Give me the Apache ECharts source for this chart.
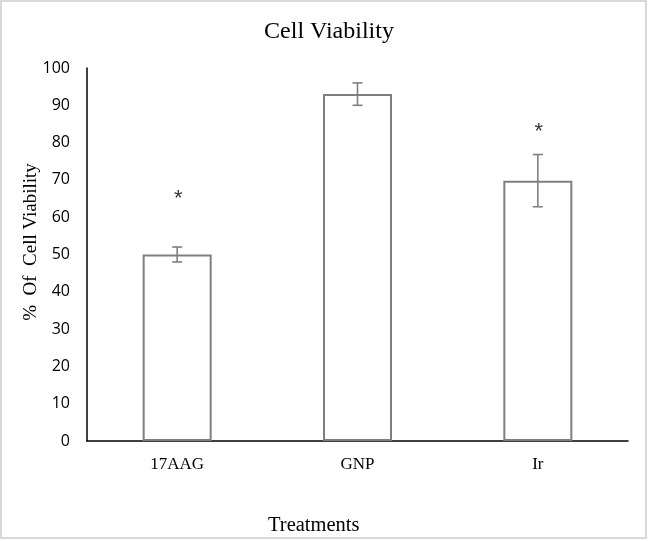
<!DOCTYPE html>
<html>
<head>
<meta charset="utf-8">
<script src="https://cdn.jsdelivr.net/npm/echarts@6/dist/echarts.min.js"></script>
<style>
html,body{margin:0;padding:0;background:#fff;}
#chart{width:649px;height:541px;}
</style>
</head>
<body>
<div id="chart"></div>
<script>
var categories = ['17AAG', 'GNP', 'Ir'];
var viability = [50, 93, 69.8];
var errors = [2, 3, 7];
var starValues = [66, null, 84];
var yTicks = [0, 10, 20, 30, 40, 50, 60, 70, 80, 90, 100];

var chart = echarts.init(document.getElementById('chart'));

var errData = categories.map(function (c, i) {
  return [i, viability[i] - errors[i], viability[i] + errors[i]];
});
var starData = categories.map(function (c, i) {
  return starValues[i] == null ? null : [i, starValues[i]];
}).filter(function (d) { return d; });

var option = {
  animation: false,
  backgroundColor: '#ffffff',
  title: {
    text: 'Cell Viability',
    left: 324,
    top: 15,
    textAlign: 'center',
    textStyle: { fontFamily: 'Liberation Serif', fontSize: 24, fontWeight: 'normal', color: '#000' }
  },
  graphic: [
    {
      type: 'rect',
      shape: { x: 1, y: 1, width: 645, height: 537 },
      style: { fill: null, stroke: '#d9d9d9', lineWidth: 2 },
      silent: true
    },
    {
      type: 'text',
      left: 268,
      top: 515,
      style: { text: 'Treatments', fontFamily: 'Liberation Serif', fontSize: 20.5, fill: '#000' }
    },
    {
      type: 'text',
      x: 31,
      y: 242,
      rotation: Math.PI / 2,
      style: {
        text: '%  Of  Cell Viability',
        fontFamily: 'Liberation Serif',
        fontSize: 19,
        fill: '#000',
        align: 'center',
        verticalAlign: 'middle'
      }
    }
  ],
  grid: { left: 87, right: 21, top: 68, bottom: 100 },
  xAxis: {
    type: 'category',
    data: categories,
    axisLine: { show: true, lineStyle: { color: '#000', width: 1.5 } },
    axisTick: { show: false },
    axisLabel: { margin: 15, fontFamily: 'Liberation Serif', fontSize: 17, color: '#000' },
    splitLine: { show: false }
  },
  yAxis: {
    type: 'value',
    min: yTicks[0],
    max: yTicks[yTicks.length - 1],
    interval: 10,
    axisLine: { show: true, lineStyle: { color: '#000', width: 1.5 } },
    axisTick: { show: false },
    axisLabel: { margin: 17, fontFamily: 'Open Sans', fontSize: 16, color: '#000' },
    splitLine: { show: false }
  },
  series: [
    {
      type: 'bar',
      data: viability,
      barWidth: 69,
      itemStyle: { color: '#ffffff', borderColor: '#7f7f7f', borderWidth: 2 },
      z: 2
    },
    {
      type: 'custom',
      data: errData,
      z: 5,
      renderItem: function (params, api) {
        var x = api.value(0);
        var lo = api.coord([x, api.value(1)]);
        var hi = api.coord([x, api.value(2)]);
        var hw = 5;
        var st = { stroke: '#808080', lineWidth: 1.6 };
        return {
          type: 'group',
          children: [
            { type: 'line', shape: { x1: hi[0], y1: hi[1], x2: lo[0], y2: lo[1] }, style: st },
            { type: 'line', shape: { x1: hi[0] - hw, y1: hi[1], x2: hi[0] + hw, y2: hi[1] }, style: st },
            { type: 'line', shape: { x1: lo[0] - hw, y1: lo[1], x2: lo[0] + hw, y2: lo[1] }, style: st }
          ]
        };
      }
    },
    {
      type: 'scatter',
      data: starData,
      symbolSize: 1,
      itemStyle: { color: 'rgba(0,0,0,0)' },
      label: {
        show: true,
        position: 'inside',
        formatter: '*',
        fontFamily: 'Liberation Sans',
        fontSize: 22,
        color: '#000',
        offset: [1, 4]
      },
      z: 6
    }
  ]
};
chart.setOption(option);
</script>
</body>
</html>
